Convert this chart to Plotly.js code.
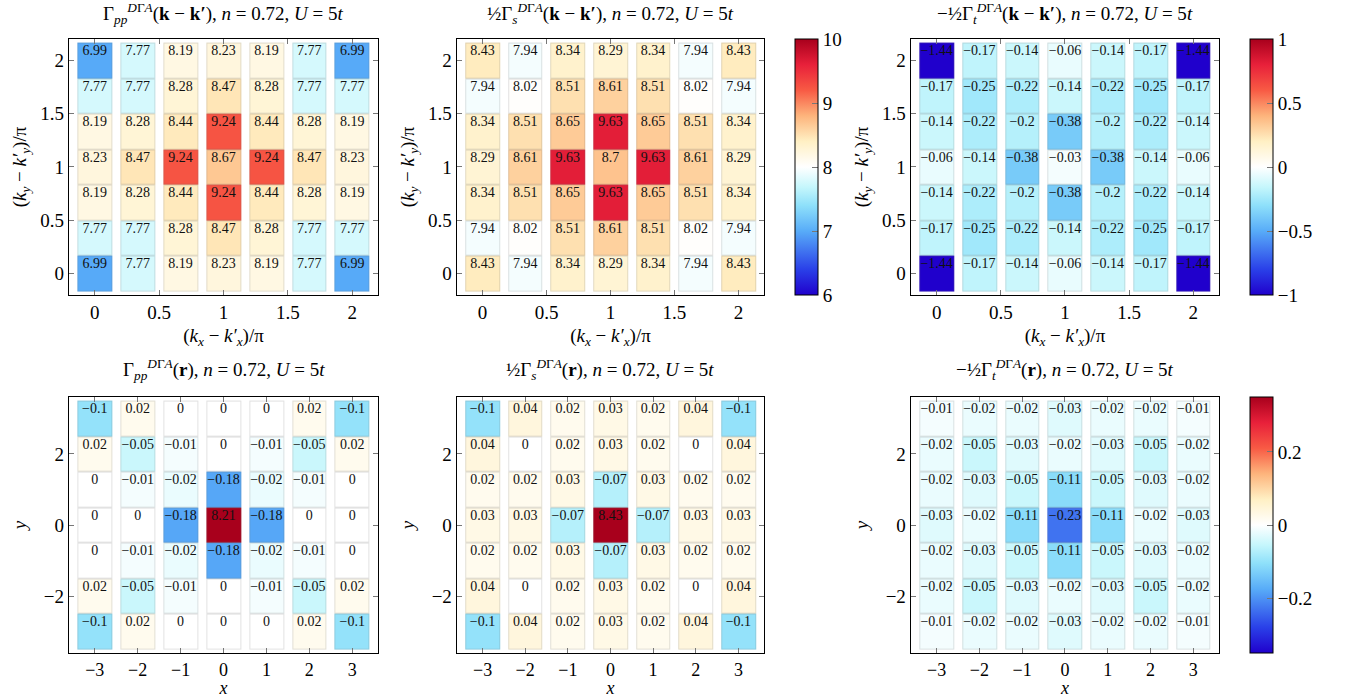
<!DOCTYPE html>
<html>
<head>
<meta charset="utf-8">
<script src="https://cdn.plot.ly/plotly-3.0.1.min.js"></script>
<style>
  html, body { margin: 0; padding: 0; background: #fff; }
  #chart { width: 1346px; height: 698px; }
</style>
</head>
<body>
<div id="chart"></div>
<script>
// Grid positions: momentum transfer (units of pi) and real-space lattice sites
const kPos = [0, 1/3, 2/3, 1, 4/3, 5/3, 2];
const rPos = [-3, -2, -1, 0, 1, 2, 3];
const kTicks = [0, 0.5, 1, 1.5, 2];
const rTicksX = [-3, -2, -1, 0, 1, 2, 3];
const rTicksY = [-2, 0, 2];
const kBarTicks = [6, 7, 8, 9, 10];
const tBarTicks = [-1, -0.5, 0, 0.5, 1];
const rBarTicks = [-0.2, 0, 0.2];

// Rows run from bottom (first) to top (last)
const gammaPPk = [
  [6.99, 7.77, 8.19, 8.23, 8.19, 7.77, 6.99],
  [7.77, 7.77, 8.28, 8.47, 8.28, 7.77, 7.77],
  [8.19, 8.28, 8.44, 9.24, 8.44, 8.28, 8.19],
  [8.23, 8.47, 9.24, 8.67, 9.24, 8.47, 8.23],
  [8.19, 8.28, 8.44, 9.24, 8.44, 8.28, 8.19],
  [7.77, 7.77, 8.28, 8.47, 8.28, 7.77, 7.77],
  [6.99, 7.77, 8.19, 8.23, 8.19, 7.77, 6.99]
];
const gammaSk = [
  [8.43, 7.94, 8.34, 8.29, 8.34, 7.94, 8.43],
  [7.94, 8.02, 8.51, 8.61, 8.51, 8.02, 7.94],
  [8.34, 8.51, 8.65, 9.63, 8.65, 8.51, 8.34],
  [8.29, 8.61, 9.63, 8.7, 9.63, 8.61, 8.29],
  [8.34, 8.51, 8.65, 9.63, 8.65, 8.51, 8.34],
  [7.94, 8.02, 8.51, 8.61, 8.51, 8.02, 7.94],
  [8.43, 7.94, 8.34, 8.29, 8.34, 7.94, 8.43]
];
const gammaTk = [
  [-1.44, -0.17, -0.14, -0.06, -0.14, -0.17, -1.44],
  [-0.17, -0.25, -0.22, -0.14, -0.22, -0.25, -0.17],
  [-0.14, -0.22, -0.2, -0.38, -0.2, -0.22, -0.14],
  [-0.06, -0.14, -0.38, -0.03, -0.38, -0.14, -0.06],
  [-0.14, -0.22, -0.2, -0.38, -0.2, -0.22, -0.14],
  [-0.17, -0.25, -0.22, -0.14, -0.22, -0.25, -0.17],
  [-1.44, -0.17, -0.14, -0.06, -0.14, -0.17, -1.44]
];
const gammaPPr = [
  [-0.1, 0.02, 0, 0, 0, 0.02, -0.1],
  [0.02, -0.05, -0.01, 0, -0.01, -0.05, 0.02],
  [0, -0.01, -0.02, -0.18, -0.02, -0.01, 0],
  [0, 0, -0.18, 8.21, -0.18, 0, 0],
  [0, -0.01, -0.02, -0.18, -0.02, -0.01, 0],
  [0.02, -0.05, -0.01, 0, -0.01, -0.05, 0.02],
  [-0.1, 0.02, 0, 0, 0, 0.02, -0.1]
];
const gammaSr = [
  [-0.1, 0.04, 0.02, 0.03, 0.02, 0.04, -0.1],
  [0.04, 0, 0.02, 0.03, 0.02, 0, 0.04],
  [0.02, 0.02, 0.03, -0.07, 0.03, 0.02, 0.02],
  [0.03, 0.03, -0.07, 8.43, -0.07, 0.03, 0.03],
  [0.02, 0.02, 0.03, -0.07, 0.03, 0.02, 0.02],
  [0.04, 0, 0.02, 0.03, 0.02, 0, 0.04],
  [-0.1, 0.04, 0.02, 0.03, 0.02, 0.04, -0.1]
];
const gammaTr = [
  [-0.01, -0.02, -0.02, -0.03, -0.02, -0.02, -0.01],
  [-0.02, -0.05, -0.03, -0.02, -0.03, -0.05, -0.02],
  [-0.02, -0.03, -0.05, -0.11, -0.05, -0.03, -0.02],
  [-0.03, -0.02, -0.11, -0.23, -0.11, -0.02, -0.03],
  [-0.02, -0.03, -0.05, -0.11, -0.05, -0.03, -0.02],
  [-0.02, -0.05, -0.03, -0.02, -0.03, -0.05, -0.02],
  [-0.01, -0.02, -0.02, -0.03, -0.02, -0.02, -0.01]
];

const FONT = 'Liberation Serif, DejaVu Serif, serif';

// Diverging blue-white-red colour map
const fillScale = [
  [0, '#2000cc'], [0.1, '#2a40e8'], [0.25, '#58acf8'], [0.35, '#8ee0fa'],
  [0.42, '#c4f6fc'], [0.5, '#ffffff'], [0.6, '#fff0c4'], [0.7, '#fdb47c'],
  [0.8, '#f85a44'], [0.9, '#e8203a'], [1, '#a8001c']
];
// Darker copy of the same map for the cell outlines
function darken(hex, f, g) {
  const n = parseInt(hex.slice(1), 16);
  const c = [(n >> 16) & 255, (n >> 8) & 255, n & 255].map(v => Math.round(v * f + g * (1 - f)));
  return 'rgb(' + c.join(',') + ')';
}
const edgeScale = fillScale.map(([p, c]) => [p, darken(c, 0.8, 110)]);

function fmt(v) { return String(v).replace('-', '\u2212'); }

const traces = [];
function addPanel(z, xs, ys, idx, zmin, zmax, colorbar) {
  const xa = idx === 1 ? 'x' : 'x' + idx;
  const ya = idx === 1 ? 'y' : 'y' + idx;
  traces.push({
    type: 'heatmap', x: xs, y: ys, z: z, zmin: zmin, zmax: zmax,
    colorscale: edgeScale, showscale: false, xgap: 8, ygap: 0,
    xaxis: xa, yaxis: ya, hoverinfo: 'skip'
  });
  const fill = {
    type: 'heatmap', x: xs, y: ys, z: z, zmin: zmin, zmax: zmax,
    colorscale: fillScale, showscale: !!colorbar, xgap: 10, ygap: 2,
    xaxis: xa, yaxis: ya, hoverinfo: 'skip'
  };
  if (colorbar) fill.colorbar = colorbar;
  traces.push(fill);
  // value labels sit in the upper part of each cell
  const step = ys[1] - ys[0];
  const tx = [], ty = [], tt = [];
  z.forEach((row, i) => row.forEach((v, j) => {
    tx.push(xs[j]); ty.push(ys[i] + 0.25 * step); tt.push(fmt(v));
  }));
  traces.push({
    type: 'scatter', mode: 'text', x: tx, y: ty, text: tt,
    textposition: 'middle center', textfont: { family: FONT, size: 14, color: '#111' },
    xaxis: xa, yaxis: ya, hoverinfo: 'skip', showlegend: false, cliponaxis: false
  });
}

function cbar(xPos, yTop, ticks) {
  return {
    x: xPos, xanchor: 'left', xpad: 0, ypad: 0,
    y: yTop, yanchor: 'top', len: 0.3667, lenmode: 'fraction',
    thickness: 23, thicknessmode: 'pixels',
    outlinecolor: '#000', outlinewidth: 1,
    tickmode: 'array', tickvals: ticks,
    ticks: 'inside', ticklen: 6, tickcolor: '#777',
    tickfont: { family: FONT, size: 19, color: '#000' }
  };
}

const yTopDom = [0.5774, 0.9441];
const yBotDom = [0.0645, 0.4312];
const xDoms = [[0.0513, 0.2808], [0.3395, 0.5676], [0.6768, 0.9056]];

addPanel(gammaPPk, kPos, kPos, 1, 6, 10, null);
addPanel(gammaSk, kPos, kPos, 2, 6, 10, cbar(0.5906, yTopDom[1], kBarTicks));
addPanel(gammaTk, kPos, kPos, 3, -1, 1, cbar(0.9287, yTopDom[1], tBarTicks));
addPanel(gammaPPr, rPos, rPos, 4, -0.35, 0.35, null);
addPanel(gammaSr, rPos, rPos, 5, -0.35, 0.35, null);
addPanel(gammaTr, rPos, rPos, 6, -0.35, 0.35, cbar(0.9287, yBotDom[1], rBarTicks));

function axis(extra) {
  return Object.assign({
    showline: true, linecolor: '#000', linewidth: 1.3, mirror: 'ticks',
    ticks: 'inside', ticklen: 5, tickcolor: '#777', tickwidth: 1,
    showgrid: false, zeroline: false, fixedrange: true,
    tickfont: { family: FONT, size: 19, color: '#000' },
    tickmode: 'array'
  }, extra);
}
const titleFont = { family: FONT, size: 19, color: '#000' };
const kxTitle = { text: '(<i>k<sub>x</sub></i> \u2212 <i>k\u2032<sub>x</sub></i>)/\u03c0', font: titleFont, standoff: 6 };
const kyTitle = { text: '(<i>k<sub>y</sub></i> \u2212 <i>k\u2032<sub>y</sub></i>)/\u03c0', font: titleFont, standoff: 8 };
const rxTitle = { text: '<i>x</i>', font: { family: FONT, size: 18, color: '#000' }, standoff: 3 };
const ryTitle = { text: '<i>y</i>', font: titleFont, standoff: 12 };

const layout = {
  width: 1346, height: 698,
  margin: { l: 0, r: 0, t: 0, b: 0 },
  paper_bgcolor: '#fff', plot_bgcolor: '#fff',
  showlegend: false,
  font: { family: FONT, size: 19, color: '#000' },
  annotations: []
};

for (let i = 1; i <= 6; i++) {
  const top = i <= 3;
  const xd = xDoms[(i - 1) % 3];
  const yd = top ? yTopDom : yBotDom;
  const sfx = i === 1 ? '' : String(i);
  layout['xaxis' + sfx] = axis({
    domain: xd, anchor: 'y' + sfx,
    range: top ? [-0.2, 2.2] : [-3.6, 3.6],
    tickvals: top ? kTicks : rTicksX,
    tickfont: { family: FONT, size: top ? 19 : 18, color: '#000' },
    title: top ? kxTitle : rxTitle
  });
  layout['yaxis' + sfx] = axis({
    domain: yd, anchor: 'x' + sfx,
    range: top ? [-0.2, 2.2] : [-3.6, 3.6],
    tickvals: top ? kTicks : rTicksY,
    title: top ? kyTitle : ryTitle
  });
}

const panelTitles = [
  'Γ<sub><i>pp</i></sub><sup><i>D</i>Γ<i>A</i></sup>(<b>k</b> \u2212 <b>k\u2032</b>), <i>n</i> = 0.72, <i>U</i> = 5<i>t</i>',
  '½Γ<sub><i>s</i></sub><sup><i>D</i>Γ<i>A</i></sup>(<b>k</b> \u2212 <b>k\u2032</b>), <i>n</i> = 0.72, <i>U</i> = 5<i>t</i>',
  '\u2212½Γ<sub><i>t</i></sub><sup><i>D</i>Γ<i>A</i></sup>(<b>k</b> \u2212 <b>k\u2032</b>), <i>n</i> = 0.72, <i>U</i> = 5<i>t</i>',
  'Γ<sub><i>pp</i></sub><sup><i>D</i>Γ<i>A</i></sup>(<b>r</b>), <i>n</i> = 0.72, <i>U</i> = 5<i>t</i>',
  '½Γ<sub><i>s</i></sub><sup><i>D</i>Γ<i>A</i></sup>(<b>r</b>), <i>n</i> = 0.72, <i>U</i> = 5<i>t</i>',
  '\u2212½Γ<sub><i>t</i></sub><sup><i>D</i>Γ<i>A</i></sup>(<b>r</b>), <i>n</i> = 0.72, <i>U</i> = 5<i>t</i>'
];
panelTitles.forEach((t, k) => {
  const xd = xDoms[k % 3];
  layout.annotations.push({
    xref: 'paper', yref: 'paper',
    x: (xd[0] + xd[1]) / 2, y: k < 3 ? 0.981 : 0.470,
    xanchor: 'center', yanchor: 'middle', showarrow: false,
    text: t, font: { family: FONT, size: 19, color: '#000' }
  });
});

Plotly.newPlot('chart', traces, layout, { displayModeBar: false, staticPlot: true });
</script>
</body>
</html>
